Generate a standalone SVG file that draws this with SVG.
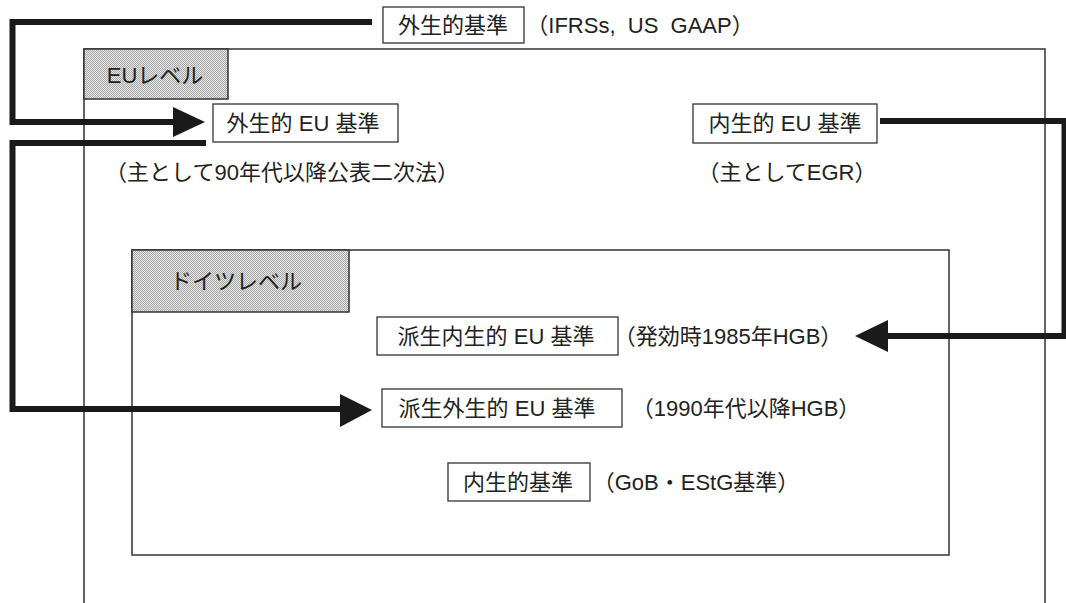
<svg xmlns="http://www.w3.org/2000/svg" width="1066" height="603" viewBox="0 0 1066 603">
<defs>
<pattern id="dots" width="2" height="2" patternUnits="userSpaceOnUse">
<rect width="2" height="2" fill="#e6e6e6"/>
<rect width="1" height="1" fill="#a8a8a8"/>
<rect x="1" y="1" width="1" height="1" fill="#a8a8a8"/>
</pattern>
<style>
.frame{fill:none;stroke:#333;stroke-width:1.5}
.box{fill:#fff;stroke:#333;stroke-width:1.3}
.lab{fill:url(#dots);stroke:#333;stroke-width:1.5}
.t{font-family:"Liberation Sans","Noto Sans CJK JP",sans-serif;font-size:22px;fill:#222;text-anchor:middle}
.conn{fill:none;stroke:#1a1a1a;stroke-width:6}
.head{fill:#1a1a1a}
</style>
</defs>
<rect width="1066" height="603" fill="#fff"/>

<g id="eu-level">
<path class="frame" d="M84,603 V49 H1045 V603"/>
<rect class="lab" x="84" y="49" width="144" height="50"/>
<text class="t" x="155" y="83">EUレベル</text>
</g>

<g id="german-level">
<rect class="frame" x="132" y="250" width="817" height="305"/>
<rect class="lab" x="132" y="250" width="217" height="62"/>
<text class="t" x="236" y="289">ドイツレベル</text>
</g>

<g id="connectors">
<polyline class="conn" points="372,22 12.5,22 12.5,122 176,122"/>
<polygon class="head" points="173,107 205,122 173,137"/>
<polyline class="conn" points="206,143 12.5,143 12.5,409 343,409"/>
<polygon class="head" points="340,394 372,410 340,427"/>
<polyline class="conn" points="880,121 1064.5,121 1064.5,336 886,336"/>
<polygon class="head" points="888,320 855,336 888,352"/>
</g>

<g id="n-ext">
<rect class="box" x="383" y="7" width="141" height="36"/>
<text class="t" x="453" y="33">外生的基準</text>
<text class="t" x="640" y="33" xml:space="preserve">（IFRSs,  US  GAAP）</text>
</g>

<g id="n-ext-eu">
<rect class="box" x="213" y="104" width="185" height="38"/>
<text class="t" x="303" y="131">外生的 EU 基準</text>
<text class="t" x="282" y="180">（主として90年代以降公表二次法）</text>
</g>

<g id="n-int-eu">
<rect class="box" x="693" y="104" width="184" height="39"/>
<text class="t" x="785" y="131">内生的 EU 基準</text>
<text class="t" x="787" y="180">（主としてEGR）</text>
</g>

<g id="n-der-int">
<rect class="box" x="377" y="317" width="241" height="38"/>
<text class="t" x="496" y="344">派生内生的 EU 基準</text>
<text class="t" x="728" y="344">（発効時1985年HGB）</text>
</g>

<g id="n-der-ext">
<rect class="box" x="382" y="389" width="240" height="38"/>
<text class="t" x="497" y="416">派生外生的 EU 基準</text>
<text class="t" x="746" y="416">（1990年代以降HGB）</text>
</g>

<g id="n-int">
<rect class="box" x="448" y="463" width="142" height="38"/>
<text class="t" x="518" y="490">内生的基準</text>
<text class="t" x="696" y="490">（GoB・EStG基準）</text>
</g>
</svg>
